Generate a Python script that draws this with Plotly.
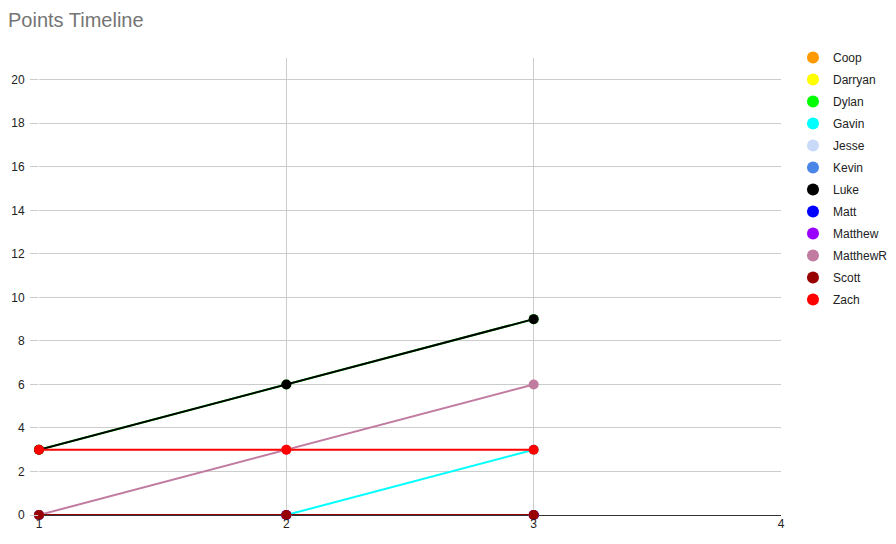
import plotly.graph_objects as go

rounds = [1, 2, 3]
names = ["Coop", "Darryan", "Dylan", "Gavin", "Jesse", "Kevin", "Luke",
         "Matt", "Matthew", "MatthewR", "Scott", "Zach"]
colors = ["#ff9900", "#ffff00", "#00ff00", "#00ffff", "#c9daf8", "#4a86e8",
          "#000000", "#0000ff", "#9900ff", "#c27ba0", "#980000", "#ff0000"]
coop = [0, 0, 0]
darryan = [0, 0, 0]
dylan = [3, 6, 9]
gavin = [0, 0, 3]
jesse = [0, 0, 0]
kevin = [0, 0, 0]
luke = [3, 6, 9]
matt = [0, 0, 0]
matthew = [0, 0, 0]
matthewr = [0, 3, 6]
scott = [0, 0, 0]
zach = [3, 3, 3]
series = [coop, darryan, dylan, gavin, jesse, kevin, luke, matt, matthew,
          matthewr, scott, zach]
x_ticks = [1, 2, 3, 4]
y_ticks = list(range(0, 21, 2))

fig = go.Figure()
for n, c, s in zip(names, colors, series):
    fig.add_trace(go.Scatter(
        x=rounds, y=s, mode="lines+markers", name=n, showlegend=False,
        line=dict(color=c, width=2), marker=dict(color=c, size=10),
        cliponaxis=False, hoverinfo="x+y+name"))
for n, c in zip(names, colors):
    fig.add_trace(go.Scatter(
        x=[None], y=[None], mode="markers", name=n, legendgroup=n,
        marker=dict(color=c, size=12)))

# page body has an 8px margin, so the figure is sized/offset to compensate
fig.update_layout(
    width=888, height=536,
    margin=dict(l=31, r=115, t=50, b=29, autoexpand=False),
    paper_bgcolor="white", plot_bgcolor="white",
    font=dict(family="Arial, Liberation Sans, sans-serif", size=12, color="#222222"),
    title=dict(text="Points Timeline", x=0.0, xanchor="left", y=0.978, yanchor="middle",
               font=dict(size=20, color="#757575")),
    legend=dict(xref="container", yref="container", x=0.884, xanchor="left",
                y=0.9347, yanchor="top",
                tracegroupgap=3, traceorder="grouped",
                font=dict(size=12, color="#222222")),
    xaxis=dict(range=[1, 4], tickvals=x_ticks, showgrid=True, gridcolor="#cccccc",
               zeroline=False, showline=False, ticks="", tickfont=dict(size=12)),
    yaxis=dict(range=[0, 21], tickvals=y_ticks, showgrid=True, gridcolor="#cccccc",
               zeroline=True, zerolinecolor="#333333", zerolinewidth=1,
               showline=False, ticks="outside", ticklen=8, tickcolor="#cccccc",
               ticklabelstandoff=3, tickfont=dict(size=12)),
)
fig.write_html("out.html")
